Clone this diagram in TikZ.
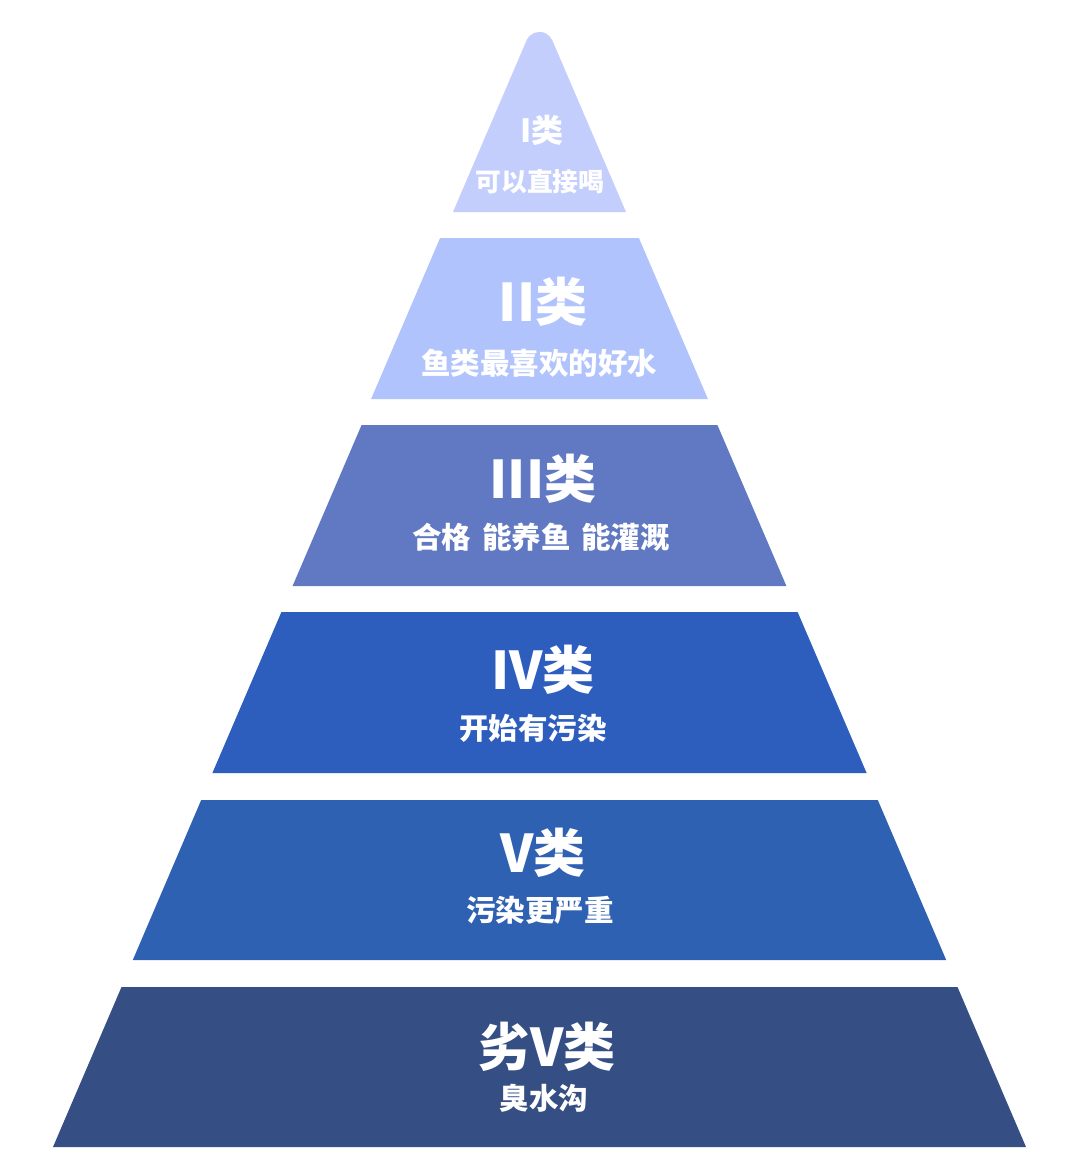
\documentclass[tikz,border=0pt]{standalone}
\usepackage{fontspec}
\newfontfamily\cjk{Noto Sans CJK SC}
\definecolor{cA}{HTML}{C3CEFC}
\definecolor{cB}{HTML}{B1C3FC}
\definecolor{cC}{HTML}{6079C2}
\definecolor{cD}{HTML}{2D5EBE}
\definecolor{cE}{HTML}{2F61B3}
\definecolor{cF}{HTML}{354F84}
\tikzset{
  ttl/.style={text=white, font=\cjk\bfseries\fontsize{52}{56}\selectfont, inner sep=0pt, anchor=center},
  ttlsmall/.style={text=white, font=\cjk\bfseries\fontsize{32}{36}\selectfont, inner sep=0pt, anchor=center},
  sub/.style={text=white, font=\cjk\bfseries\fontsize{29.5}{33}\selectfont, inner sep=0pt, anchor=center},
  subsmall/.style={text=white, font=\cjk\bfseries\fontsize{25.8}{30}\selectfont, inner sep=0pt, anchor=center}
}
\begin{document}
\begin{tikzpicture}[x=1pt,y=-1pt]
\useasboundingbox (0,0) rectangle (1080,1169);
\fill[white] (0,0) rectangle (1080,1169);
% tiers: half width = 0.429*(y-10.4), centre 539.5
\fill[cA] (453,212) -- (526.6,40.4) arc[start angle=203.2, end angle=336.8, radius=14] -- (626,212) -- cycle;
\fill[cB] (440.1,238) -- (638.9,238) -- (707.9,399) -- (371.1,399) -- cycle;
\fill[cC] (361.6,425) -- (717.4,425) -- (786.4,586) -- (292.6,586) -- cycle;
\fill[cD] (281.4,612) -- (797.6,612) -- (866.6,773) -- (212.4,773) -- cycle;
\fill[cE] (201.2,800) -- (877.8,800) -- (946.2,960) -- (132.8,960) -- cycle;
\fill[cF] (121.5,987) -- (957.5,987) -- (1026,1147) -- (53,1147) -- cycle;
% labels
\node[ttlsmall] (t1) at (542,130) {I类};
\node[subsmall] (s1) at (540,182) {可以直接喝};
\node[ttl] (t2) at (543,302) {II类};
\node[sub] (s2) at (539,363) {鱼类最喜欢的好水};
\node[ttl] (t3) at (543,479) {III类};
\node[sub] (s3) at (541,537) {合格\hspace{0.36em}能养鱼\hspace{0.36em}能灌溉};
\node[ttl] (t4) at (543,670) {IV类};
\node[sub] (s4) at (533,728) {开始有污染};
\node[ttl] (t5) at (543,853) {V类};
\node[sub] (s5) at (540,910) {污染更严重};
\node[ttl] (t6) at (547,1047) {劣V类};
\node[sub] (s6) at (544,1098) {臭水沟};
\end{tikzpicture}
\end{document}
